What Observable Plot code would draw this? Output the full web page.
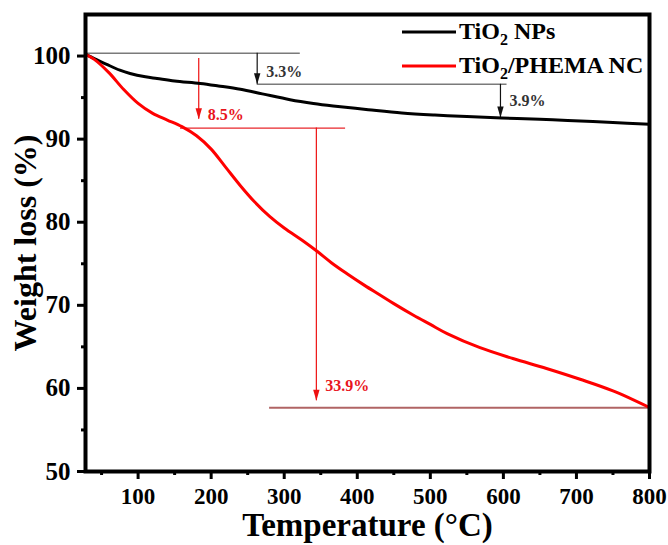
<!DOCTYPE html>
<html>
<head>
<meta charset="utf-8">
<script src="https://cdn.jsdelivr.net/npm/d3@7"></script>
<script src="https://cdn.jsdelivr.net/npm/@observablehq/plot@0.6"></script>
<style>
  html, body { margin: 0; padding: 0; background: #fff; }
  #chart svg { display: block; }
</style>
</head>
<body>
<div id="chart"></div>
<script>
// ---- Data ----
const tempNPs   = [28, 40, 57, 75, 89, 110, 126, 150, 185, 210, 240, 270, 308, 340, 367, 415, 461, 506, 550, 598, 650, 688, 750, 800];
const weightNPs = [100.2, 99.7, 99.0, 98.3, 97.9, 97.5, 97.3, 97.0, 96.7, 96.4, 96.0, 95.45, 94.75, 94.3, 94.0, 93.55, 93.15, 92.9, 92.72, 92.55, 92.4, 92.25, 92.0, 91.8];

const tempNC   = [28, 40, 60, 80, 100, 120, 140, 160, 180, 200, 220, 240, 260, 280, 300, 325, 345, 365, 386, 410, 430, 450, 477, 500, 523, 568, 613, 659, 705, 750, 800];
const weightNC = [100.2, 99.6, 98.0, 96.0, 94.3, 93.1, 92.3, 91.5, 90.4, 88.8, 86.6, 84.4, 82.4, 80.7, 79.3, 77.8, 76.5, 75.1, 73.8, 72.4, 71.3, 70.2, 68.8, 67.7, 66.6, 64.9, 63.6, 62.4, 61.1, 59.7, 57.7];

const seriesNames = ["TiO₂ NPs", "TiO₂/PHEMA NC"];
const seriesColors = ["#000000", "#ff0000"];

const xTicks = [100, 200, 300, 400, 500, 600, 700, 800];
const xMinorTicks = [50, 150, 250, 350, 450, 550, 650, 750];
const yTicks = [50, 60, 70, 80, 90, 100];
const yMinorTicks = [55, 65, 75, 85, 95];

// guide lines: y level, x start, x end, kind
const guideY  = [100.35, 96.6, 91.33, 57.68];
const guideX1 = [28, 263, 158, 280];
const guideX2 = [322, 605, 384, 800];
const guideKind = ["gray", "gray", "red", "brown"];

// arrows: x, start y, end y, label, label y, kind
const arrowX  = [263, 596, 183, 344];
const arrowY1 = [100.35, 96.6, 99.7, 91.33];
const arrowY2 = [96.6, 92.6, 92.4, 58.5];
const arrowLabel = ["3.3%", "3.9%", "8.5%", "33.9%"];
const arrowLabelY = [98.15, 94.55, 92.86, 60.3];
const arrowKind = ["black", "black", "red", "red"];

const xTitle = "Temperature (°C)";
const yTitle = "Weight loss (%)";

// ---- Build tables ----
const dataNPs = tempNPs.map((t, i) => ({t, w: weightNPs[i]}));
const dataNC = tempNC.map((t, i) => ({t, w: weightNC[i]}));
const guides = guideY.map((y, i) => ({y, x1: guideX1[i], x2: guideX2[i], kind: guideKind[i]}));
const arrows = arrowX.map((x, i) => ({x, y1: arrowY1[i], y2: arrowY2[i], label: arrowLabel[i], ly: arrowLabelY[i], kind: arrowKind[i]}));

const guideColor = {gray: "#7a7a7a", red: "#e8262b", brown: "#b06464"};
const guideWidth = {gray: 1.5, red: 1.2, brown: 2};
const arrowColor = {black: "#111111", red: "#ee1111"};
const labelColor = {black: "#333333", red: "#e8141c"};

const headSymbol = {
  draw(ctx, size) {
    ctx.moveTo(0, 0);
    ctx.lineTo(-3.2, -11);
    ctx.lineTo(3.2, -11);
    ctx.closePath();
  }
};

const FONT = "'Liberation Serif', 'Times New Roman', serif";

const W = 668, H = 545;
const mL = 85, mR = 19, mT = 14, mB = 74;
const frameW = W - mL - mR, frameH = H - mT - mB;

const plot = Plot.plot({
  width: W,
  height: H,
  marginLeft: mL,
  marginRight: mR,
  marginTop: mT,
  marginBottom: mB,
  x: {domain: [28, 800]},
  y: {domain: [50, 105]},
  style: {fontFamily: FONT, fontWeight: "bold", background: "#fff", color: "#000"},
  marks: [
    // guide lines
    Plot.ruleY(guides, {y: "y", x1: "x1", x2: "x2", stroke: d => guideColor[d.kind], strokeWidth: d => guideWidth[d.kind]}),
    // arrow shafts
    Plot.ruleX(arrows, {x: "x", y1: "y1", y2: "y2", stroke: d => arrowColor[d.kind], strokeWidth: 1.2}),
    // arrow heads
    Plot.dot(arrows, {x: "x", y: "y2", symbol: headSymbol, fill: d => arrowColor[d.kind], stroke: "none", r: 4}),
    // arrow labels
    Plot.text(arrows, {x: "x", y: "ly", text: "label", dx: 9, textAnchor: "start", fill: d => labelColor[d.kind], fontSize: 16, fontWeight: "bold"}),
    // curves
    Plot.line(dataNPs, {x: "t", y: "w", stroke: seriesColors[0], strokeWidth: 3, curve: "catmull-rom"}),
    Plot.line(dataNC, {x: "t", y: "w", stroke: seriesColors[1], strokeWidth: 3, curve: "catmull-rom"}),
    // outward tick marks (major + minor)
    Plot.tickX(xTicks, {x: d => d, insetTop: frameH, insetBottom: -8, stroke: "#000", strokeWidth: 3}),
    Plot.tickX(xMinorTicks, {x: d => d, insetTop: frameH, insetBottom: -4, stroke: "#000", strokeWidth: 3}),
    Plot.tickY(yTicks, {y: d => d, insetRight: frameW, insetLeft: -8, stroke: "#000", strokeWidth: 3}),
    Plot.tickY(yMinorTicks, {y: d => d, insetRight: frameW, insetLeft: -4, stroke: "#000", strokeWidth: 3}),
    // tick labels
    Plot.axisX({ticks: xTicks, tickSize: 0, tickPadding: 16, tickFormat: d => String(d), fontSize: 23, label: null}),
    Plot.axisY({ticks: yTicks, tickSize: 0, tickPadding: 15, tickFormat: d => String(d), fontSize: 25, label: null}),
    Plot.frame({stroke: "#000", strokeWidth: 4}),
    // axis titles
    Plot.text([xTitle], {frameAnchor: "bottom", dy: 54, lineAnchor: "middle", textAnchor: "middle", fontSize: 33, fontWeight: "bold", fill: "#000"}),
    Plot.text([yTitle], {frameAnchor: "left", dx: -60, dy: 0, rotate: -90, lineAnchor: "middle", textAnchor: "middle", fontSize: 32, fontWeight: "bold", fill: "#000"})
  ]
});

document.getElementById("chart").appendChild(plot);

// ---- Legend (inside the frame, top right) ----
const svg = d3.select(plot);
const legend = svg.append("g")
  .attr("font-family", FONT).attr("font-weight", "bold").attr("font-size", 24)
  .attr("text-anchor", "start");
seriesNames.forEach((name, i) => {
  const y = 32 + i * 34;
  legend.append("line").attr("x1", 402).attr("x2", 456).attr("y1", y).attr("y2", y)
    .attr("stroke", seriesColors[i]).attr("stroke-width", 3);
  const parts = name.split("₂");
  const t = legend.append("text").attr("x", 459).attr("y", y + 7).attr("fill", "#000").attr("text-anchor", "start");
  t.append("tspan").text(parts[0]);
  t.append("tspan").attr("font-size", 16).attr("dy", 6).text("2");
  t.append("tspan").attr("dy", -6).text(parts[1]);
});
</script>
</body>
</html>
